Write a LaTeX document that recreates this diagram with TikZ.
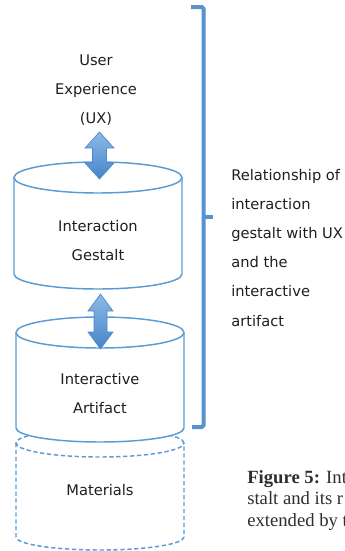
\documentclass[tikz,border=0pt]{standalone}
\usepackage{fontspec}
\setmainfont{DejaVu Sans}
\newfontfamily\capfont{Liberation Serif}
\usetikzlibrary{calc}

\definecolor{lineblue}{RGB}{91,155,213}
\definecolor{braceblue}{RGB}{88,146,207}
\definecolor{arrowtop}{RGB}{140,186,232}
\definecolor{arrowbot}{RGB}{70,132,200}
\definecolor{arrowedge}{RGB}{78,138,203}

% double-headed block arrow: top point, bottom point, head half width,
% shaft half width, head length
\newcommand\twinarrow[5]{%
  \path[dblarrow] (#1) -- ($(#1)+(#3,-#5)$) -- ($(#1)+(#4,-#5)$)
    -- ($(#2)+(#4,#5)$) -- ($(#2)+(#3,#5)$) -- (#2)
    -- ($(#2)+(-#3,#5)$) -- ($(#2)+(-#4,#5)$)
    -- ($(#1)+(-#4,-#5)$) -- ($(#1)+(-#3,-#5)$) -- cycle;}

\begin{document}
\begin{tikzpicture}[x=0.75pt,y=0.75pt,
  label/.style={font=\fontsize{11}{13}\selectfont, inner sep=0pt, text=black!88},
  cyl/.style={draw=lineblue, line width=1.1pt, fill=white},
  matcyl/.style={draw=lineblue, line width=1.1pt, dash pattern=on 3.2pt off 2pt},
  dblarrow/.style={draw=arrowedge, line width=0.5pt, top color=arrowtop,
    bottom color=arrowbot},
  brace/.style={draw=braceblue, line width=3pt, rounded corners=1.2pt},
  caption/.style={font=\capfont\fontsize{14}{16}\selectfont, inner sep=0pt,
    anchor=base west, text=black!82}]

\useasboundingbox (0,0) rectangle (345,-551);
\clip (0,0) rectangle (345,-551);

% materials (dashed, behind the artifact)
\path[matcyl] (16,-443) -- (16,-537)
  arc[start angle=180, end angle=360, x radius=84, y radius=13] -- (184,-443);
\path[matcyl] (100,-443) ellipse[x radius=84, y radius=14];

% interactive artifact
\path[cyl] (16,-332.5) -- (16,-428)
  arc[start angle=180, end angle=360, x radius=84, y radius=14] -- (184,-332.5);
\path[cyl] (100,-332.5) ellipse[x radius=84, y radius=15.5];

% interaction gestalt
\path[cyl] (14,-177.5) -- (14,-274)
  arc[start angle=180, end angle=360, x radius=84, y radius=15] -- (182,-177.5);
\path[cyl] (98,-177.5) ellipse[x radius=84, y radius=15.5];

% texts
\node[label, anchor=base] (ux1) at (96,-65) {User};
\node[label, anchor=base] (ux2) at (96,-94.5) {Experience};
\node[label, anchor=base] (ux3) at (96,-123.5) {(UX)};

\node[label, anchor=base] (ig1) at (98,-231) {Interaction};
\node[label, anchor=base] (ig2) at (98,-260) {Gestalt};

\node[label, anchor=base] (ia1) at (100,-384.5) {Interactive};
\node[label, anchor=base] (ia2) at (100,-413.5) {Artifact};

\node[label, anchor=base] (mat) at (100,-495) {Materials};

% arrows between the layers
\coordinate (a1t) at (99.5,-132);
\coordinate (a1b) at (99.5,-179);
\coordinate (a2t) at (100.5,-294);
\coordinate (a2b) at (100.5,-349);
\twinarrow{a1t}{a1b}{14.5}{7}{16}
\twinarrow{a2t}{a2b}{12.5}{6.5}{17}

% bracket grouping UX, gestalt and artifact
\coordinate (brtop) at (191,-7);
\coordinate (brbot) at (192,-427);
\coordinate (brmid) at (203.5,-216.5);
\coordinate (brtip) at (213,-216.5);
\path[brace] (brtop) -- (203.5,-7) -- (203.5,-427) -- (brbot);
\path[brace] (brmid) -- (brtip);

\foreach \txt [count=\i] in {Relationship of, interaction, gestalt with UX,
    and the, interactive, artifact}
  \node[label, anchor=base west] (rel\i) at (231,{-180-29.2*(\i-1)}) {\txt};

% caption, running off the right edge
\node[caption] (cap1) at (247,-483) {\textbf{Figure 5:} Int};
\node[caption] (cap2) at (247,-504) {stalt and its r};
\node[caption] (cap3) at (247,-526) {extended by t};
\end{tikzpicture}
\end{document}
